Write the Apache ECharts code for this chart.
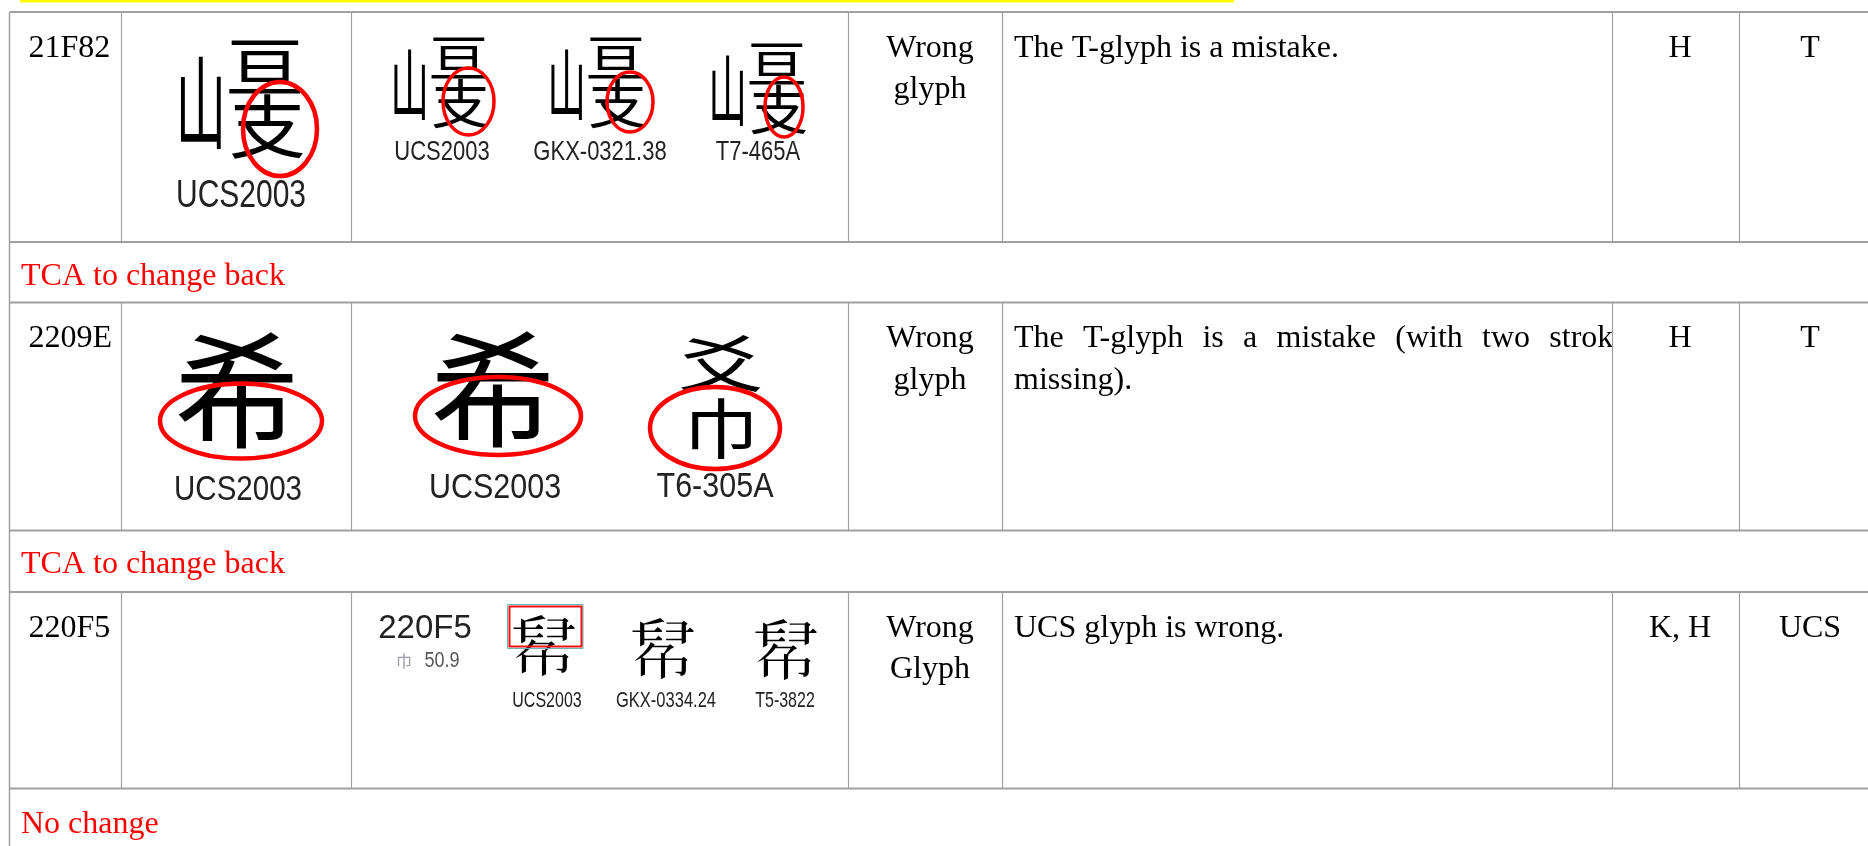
<!DOCTYPE html>
<html><head><meta charset="utf-8">
<script src="https://cdn.jsdelivr.net/npm/echarts@6/dist/echarts.min.js"></script>
<style>html,body{margin:0;padding:0;background:#fff}#c{width:1868px;height:846px}</style>
</head><body><div id="c"></div>
<script>
// ---------- table content ----------
const codes = ['21F82', '2209E', '220F5'];
const issueTypes = [['Wrong', 'glyph'], ['Wrong', 'glyph'], ['Wrong', 'Glyph']];
const commentLines = [
  ['The T-glyph is a mistake.'],
  ['The T-glyph is a mistake (with two strokes', 'missing).'],
  ['UCS glyph is wrong.']
];
const sources = ['H', 'H', 'K, H'];
const decisions = ['T', 'T', 'UCS'];
const notes = ['TCA to change back', 'TCA to change back', 'No change'];
const mainGlyphs = ['U+21F82', 'U+2209E', ''];
const mainLabels = ['UCS2003', 'UCS2003', ''];
const evidenceGlyphs = [
  ['U+21F82', 'U+21F82', 'U+21F82'],
  ['U+2209E', 'U+2209E-T6'],
  ['U+220F5', 'U+220F5', 'U+220F5']
];
const evidenceLabels = [
  ['UCS2003', 'GKX-0321.38', 'T7-465A'],
  ['UCS2003', 'T6-305A'],
  ['UCS2003', 'GKX-0334.24', 'T5-3822']
];
const refCode = '220F5';
const refRadical = '巾';
const refStrokes = '50.9';

// ---------- glyph drawing recipes (the installed fonts lack these Ext-B code points) ----------
// parts: [component, dx, dy, relSize, scaleX, scaleY] relative to the glyph em size
const glyphRecipes = {
  'U+21F82': [['山', -0.33, 0.04, 0.72, 0.55, 1.1], ['亘', 0.17, -0.24, 0.62, 1.0, 0.8], ['支', 0.19, 0.23, 0.6, 1.0, 0.9]],
  'U+2209E': [['希', 0, 0, 0.95, 1.0, 1.0]],
  'U+2209E-T6': [['爻', 0, -0.26, 0.62, 1.1, 0.8], ['巾', 0, 0.25, 0.55, 1.1, 0.95]],
  'U+220F5': [['\u{220F5}', 0, 0, 1, 1, 1]]
};

// ---------- layout (pixels) ----------
const W = 1868, H = 846;
const colEdges = [9.5, 121.5, 351.5, 848.5, 1002.5, 1612.5, 1739.5];
const rowTops = [12, 302.5, 592];
const rowBottoms = [242, 530.5, 788.5];
const noteY = [276.5, 564.5, 824.5];
const mainLayout = [
  {g: [243, 97, 128], e: [280, 129, 37, 47, 4.5], l: [241, 196, 30, 1.3]},
  {g: [237, 390, 132], e: [241, 421, 81, 37.5, 4.5], l: [238, 490, 29.5, 1.17]},
  null
];
const evLayout = [
  [
    {g: [442, 81, 98], e: [468.5, 101.5, 25.5, 33.5, 3.5], l: [442, 152, 22, 1.25]},
    {g: [599, 81, 98], e: [630, 102, 23, 30, 3.5], l: [600, 152, 22, 1.25]},
    {g: [760, 87, 98], e: [784, 107, 19, 30, 3.5], l: [758, 152, 22, 1.25]}
  ],
  [
    {g: [493, 389, 132], e: [498, 416, 83, 39, 4.5], l: [495, 488, 30.5, 1.17]},
    {g: [721, 397, 125], e: [715, 428, 65, 41, 4.5], l: [715, 487, 30.5, 1.17]}
  ],
  [
    {g: [544, 646, 66], box: true, l: [547, 701, 16, 1.35]},
    {g: [663, 649, 66], l: [666, 701, 16.5, 1.35]},
    {g: [786, 650, 66], l: [785, 701, 16, 1.35]}
  ]
];
const SERIF = '"Liberation Serif", "Times New Roman", serif';
const SANS = '"Liberation Sans", Arial, sans-serif';
const CJK = '"Noto Sans CJK TC", "Noto Sans CJK SC", sans-serif';
const GRID = '#a0a0a0';
const FS = 32;

const measureCtx = document.createElement('canvas').getContext('2d');
function textWidth(s, size, fam) { measureCtx.font = size + 'px ' + fam; return measureCtx.measureText(s).width; }

function renderItem(params, api) {
  const i = api.value(0);
  const P = (x, y) => api.coord([x, y]);
  const kids = [];
  function txt(s, x, y, o) {
    o = o || {};
    const p = P(x, y);
    kids.push({
      type: 'text', x: p[0], y: p[1], scaleX: o.sx || 1, scaleY: o.sy || 1,
      style: {
        text: s, x: 0, y: 0,
        fill: o.fill || '#000', fontSize: o.size || FS, fontFamily: o.fam || SERIF,
        align: o.align || 'left', textAlign: o.align || 'left',
        verticalAlign: 'middle', textVerticalAlign: 'middle'
      }
    });
  }
  function glyph(key, cx, cy, s) {
    const parts = glyphRecipes[key];
    parts.forEach(pt => {
      txt(pt[0], cx + pt[1] * s, cy + pt[2] * s, {size: pt[3] * s, fam: CJK, align: 'center', sx: pt[4], sy: pt[5]});
    });
  }
  function hline(y, x1, x2, w, c) {
    const a = P(x1, y), b = P(x2, y);
    kids.push({type: 'line', shape: {x1: a[0], y1: a[1], x2: b[0], y2: b[1]}, style: {stroke: c || GRID, lineWidth: w || 2}});
  }
  function vline(x, y1, y2, w) {
    const a = P(x, y1), b = P(x, y2);
    kids.push({type: 'line', shape: {x1: a[0], y1: a[1], x2: b[0], y2: b[1]}, style: {stroke: GRID, lineWidth: w || 1.2}});
  }
  function ellipse(e) {
    const c = P(e[0], e[1]);
    kids.push({type: 'ellipse', shape: {cx: c[0], cy: c[1], rx: e[2], ry: e[3]}, style: {fill: 'none', stroke: '#f00', lineWidth: e[4]}});
  }
  const top = rowTops[i], bot = rowBottoms[i];
  const l1 = top + 36.5, l2 = top + 78;

  if (i === 0) {
    const a = P(20, 0), b = P(1234, 2.5);
    kids.push({type: 'rect', shape: {x: a[0], y: a[1], width: b[0] - a[0], height: b[1] - a[1]}, style: {fill: '#ffff00'}});
    hline(top, colEdges[0], W);
  }

  // code
  txt(codes[i], 28.5, l1);
  // main glyph cell
  const ml = mainLayout[i];
  if (ml && mainGlyphs[i]) {
    glyph(mainGlyphs[i], ml.g[0], ml.g[1], ml.g[2]);
    ellipse(ml.e);
    txt(mainLabels[i], ml.l[0], ml.l[1], {size: ml.l[2], fam: SANS, align: 'center', sy: ml.l[3], fill: '#222'});
  }
  // evidence cell
  if (i === 2) {
    txt(refCode, 425, 629, {size: 33, fam: SANS, align: 'center', fill: '#222'});
    txt(refRadical, 404, 661, {size: 16, fam: CJK, align: 'center', fill: '#9a9aa8'});
    txt(refStrokes, 442, 661, {size: 18, fam: SANS, align: 'center', fill: '#555', sy: 1.2});
  }
  evLayout[i].forEach((L, k) => {
    glyph(evidenceGlyphs[i][k], L.g[0], L.g[1], L.g[2]);
    if (L.e) ellipse(L.e);
    if (L.box) {
      const a = P(507.5, 604.5), b = P(583, 648.5);
      kids.push({type: 'rect', shape: {x: a[0], y: a[1], width: b[0] - a[0], height: b[1] - a[1]}, style: {fill: 'none', stroke: '#6ab5b5', lineWidth: 1}});
      const c = P(509.5, 606.5), d = P(581.5, 646.5);
      kids.push({type: 'rect', shape: {x: c[0], y: c[1], width: d[0] - c[0], height: d[1] - c[1]}, style: {fill: 'none', stroke: '#ee1111', lineWidth: 2}});
    }
    txt(evidenceLabels[i][k], L.l[0], L.l[1], {size: L.l[2], fam: SANS, align: 'center', sy: L.l[3], fill: '#222'});
  });
  // issue type
  txt(issueTypes[i][0], 930, l1, {align: 'center'});
  txt(issueTypes[i][1], 930, l2, {align: 'center'});
  // comments
  commentLines[i].forEach((line, k) => {
    const y = k === 0 ? l1 : l2;
    if (i === 1 && k === 0) {
      // justified line that overflows the cell and is cut at the border
      const words = line.split(' ');
      const widths = words.map(w => textWidth(w, FS, SERIF));
      const total = widths.reduce((s, v) => s + v, 0);
      const gap = (1640 - 1014 - total) / (words.length - 1);
      let x = 1014;
      words.forEach((w, j) => { txt(w, x, y); x += widths[j] + gap; });
      const a = P(1613.5, top + 3), b = P(1662, top + 62);
      kids.push({type: 'rect', shape: {x: a[0], y: a[1], width: b[0] - a[0], height: b[1] - a[1]}, style: {fill: '#fff'}});
    } else {
      txt(line, 1014, y);
    }
  });
  txt(sources[i], 1680, l1, {align: 'center'});
  txt(decisions[i], 1810, l1, {align: 'center'});
  // note row
  txt(notes[i], 21, noteY[i], {fill: '#ff0000'});

  // grid lines
  colEdges.slice(1).forEach(x => vline(x, top, bot));
  hline(bot, colEdges[0], W);
  if (i < 2) hline(rowTops[i + 1], colEdges[0], W);
  const lastY = i < 2 ? rowTops[i + 1] : H;
  vline(colEdges[0], top, lastY, 1.5);

  return {type: 'group', children: kids};
}

const chart = echarts.init(document.getElementById('c'), null, {renderer: 'canvas'});
chart.setOption({
  animation: false,
  backgroundColor: '#fff',
  grid: {left: 0, right: 0, top: 0, bottom: 0},
  xAxis: {type: 'value', min: 0, max: W, show: false},
  yAxis: {type: 'value', min: 0, max: H, inverse: true, show: false},
  series: [{type: 'custom', silent: true, clip: false, data: [[0], [1], [2]], renderItem: renderItem}]
});
</script></body></html>
